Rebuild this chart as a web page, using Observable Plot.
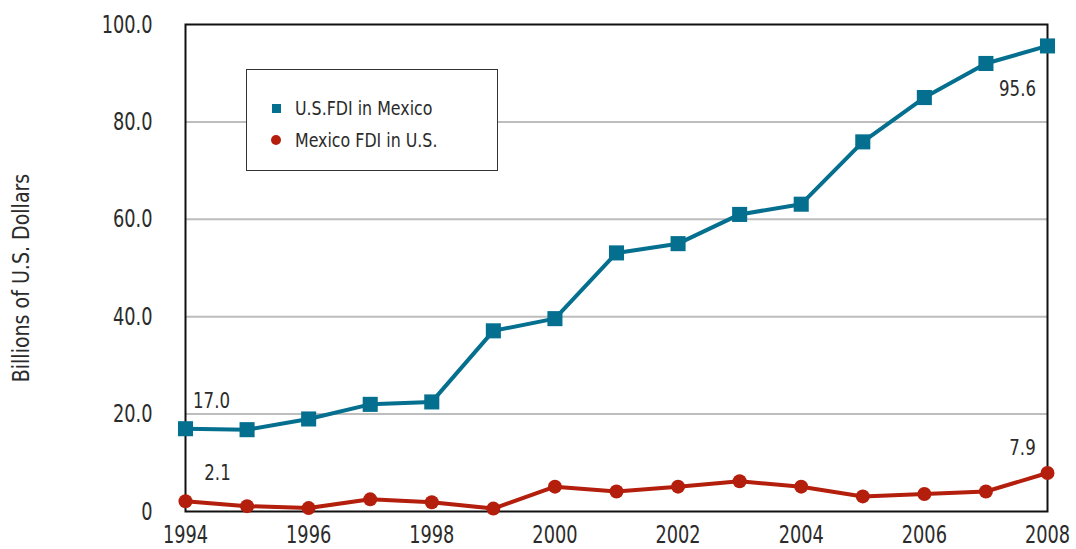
<!DOCTYPE html>
<html>
<head>
<meta charset="utf-8">
<script src="https://cdn.jsdelivr.net/npm/d3@7"></script>
<script src="https://cdn.jsdelivr.net/npm/@observablehq/plot@0.6"></script>
<style>
  html, body { margin: 0; padding: 0; background: #fff; }
  #wrap { position: relative; width: 1076px; height: 549px; font-family: "DejaVu Sans Condensed", "Liberation Sans Narrow", sans-serif; color: #2b2b2b; }
  #legend { position: absolute; left: 246px; top: 69px; width: 252px; height: 102px; box-sizing: border-box; border: 1.5px solid #333; background: #fff; font-size: 20px; }
  .item { position: absolute; left: 0; height: 24px; line-height: 24px; display: flex; align-items: center; white-space: nowrap; }
  .sym { display: inline-block; flex: none; }
  .lbl { display: inline-block; transform: scaleX(0.88); transform-origin: left center; }
</style>
</head>
<body>
<div id="wrap"></div>
<script>
const years = [1994, 1995, 1996, 1997, 1998, 1999, 2000, 2001, 2002, 2003, 2004, 2005, 2006, 2007, 2008];
const usFdiInMexico = [17.0, 16.8, 19.0, 22.0, 22.5, 37.1, 39.6, 53.1, 55.0, 61.0, 63.1, 75.9, 85.0, 92.0, 95.6];
const mexicoFdiInUS = [2.1, 1.1, 0.7, 2.5, 1.9, 0.6, 5.1, 4.1, 5.1, 6.2, 5.1, 3.1, 3.6, 4.1, 7.9];
const seriesNames = ["U.S.FDI in Mexico", "Mexico FDI in U.S."];
const seriesColors = ["#046f8f", "#b41e0c"];
const xTicks = [1994, 1996, 1998, 2000, 2002, 2004, 2006, 2008];
const yTicks = [0, 20, 40, 60, 80, 100];
const yTickLabels = ["0", "20.0", "40.0", "60.0", "80.0", "100.0"];
const gridValues = [20, 40, 60, 80];
const yTitle = "Billions of U.S. Dollars";

const us = years.map((y, i) => ({year: y, value: usFdiInMexico[i]}));
const mx = years.map((y, i) => ({year: y, value: mexicoFdiInUS[i]}));
const usLabels = [
  {year: years[0], value: usFdiInMexico[0], dx: 26, dy: -28},
  {year: years[years.length - 1], value: usFdiInMexico[usFdiInMexico.length - 1], dx: -30, dy: 43}
];
const mxLabels = [
  {year: years[0], value: mexicoFdiInUS[0], dx: 32, dy: -28},
  {year: years[years.length - 1], value: mexicoFdiInUS[mexicoFdiInUS.length - 1], dx: -25, dy: -25}
];

const font = '"DejaVu Sans Condensed", "Liberation Sans Narrow", sans-serif';
const txt = "#2b2b2b";
// horizontal compression per font size to imitate the condensed typeface
const squeeze = {"25px": 0.79, "22px": 0.84, "23px": 0.92};

const labelMarks = (arr) => arr.map(d => Plot.text([d], {
  x: "year", y: "value", text: d => d.value.toFixed(1),
  dx: d.dx, dy: d.dy, fontSize: 22, fill: txt, fontFamily: font
}));

const chart = Plot.plot({
  width: 1076,
  height: 549,
  marginLeft: 185,
  marginRight: 29,
  marginTop: 24,
  marginBottom: 38,
  style: {fontFamily: font, color: txt, background: "transparent", overflow: "visible"},
  x: {domain: [1994, 2008]},
  y: {domain: [0, 100]},
  marks: [
    Plot.ruleY(gridValues, {stroke: "#bdbdbd", strokeWidth: 2}),
    Plot.frame({stroke: "#111", strokeWidth: 2}),
    Plot.axisX({ticks: xTicks, tickFormat: d => String(d), tickSize: 0, tickPadding: 14, fontSize: 25, label: null, fill: txt}),
    Plot.axisY({ticks: yTicks, tickFormat: d => yTickLabels[yTicks.indexOf(d)], tickSize: 0, tickPadding: 33, fontSize: 25, label: null, fill: txt}),
    Plot.text([yTitle], {frameAnchor: "left", textAnchor: "middle", text: d => d, rotate: -90, dx: -164, dy: 10, fontSize: 23, fill: txt, fontFamily: font}),
    Plot.line(mx, {x: "year", y: "value", stroke: seriesColors[1], strokeWidth: 4}),
    Plot.dot(mx, {x: "year", y: "value", r: 7, fill: seriesColors[1], symbol: "circle"}),
    Plot.line(us, {x: "year", y: "value", stroke: seriesColors[0], strokeWidth: 4}),
    Plot.dot(us, {x: "year", y: "value", r: 8.5, fill: seriesColors[0], symbol: "square"}),
    ...labelMarks(usLabels),
    ...labelMarks(mxLabels)
  ]
});

const wrap = document.getElementById("wrap");
wrap.appendChild(chart);

// condense SVG texts horizontally around their anchor point
chart.querySelectorAll("text").forEach(t => {
  const fs = getComputedStyle(t).fontSize;
  const k = squeeze[fs];
  if (k && k !== 1) {
    const xa = t.getAttribute("x");
    const x = xa && /^-?[\d.]+$/.test(xa) ? +xa : 0;
    const tr = t.getAttribute("transform") || "";
    t.setAttribute("transform", `${tr} translate(${x},0) scale(${k},1) translate(${-x},0)`.trim());
  }
});

const legend = document.createElement("div");
legend.id = "legend";
const syms = [
  `<span class="sym" style="width:9px;height:9px;background:${seriesColors[0]};margin-left:25px;margin-right:14px;"></span>`,
  `<span class="sym" style="width:10px;height:10px;border-radius:50%;background:${seriesColors[1]};margin-left:24px;margin-right:14px;"></span>`
];
const tops = [26, 58];
seriesNames.forEach((n, i) => {
  const it = document.createElement("div");
  it.className = "item";
  it.style.top = tops[i] + "px";
  it.innerHTML = syms[i] + `<span class="lbl">${n}</span>`;
  legend.appendChild(it);
});
wrap.appendChild(legend);
</script>
</body>
</html>
